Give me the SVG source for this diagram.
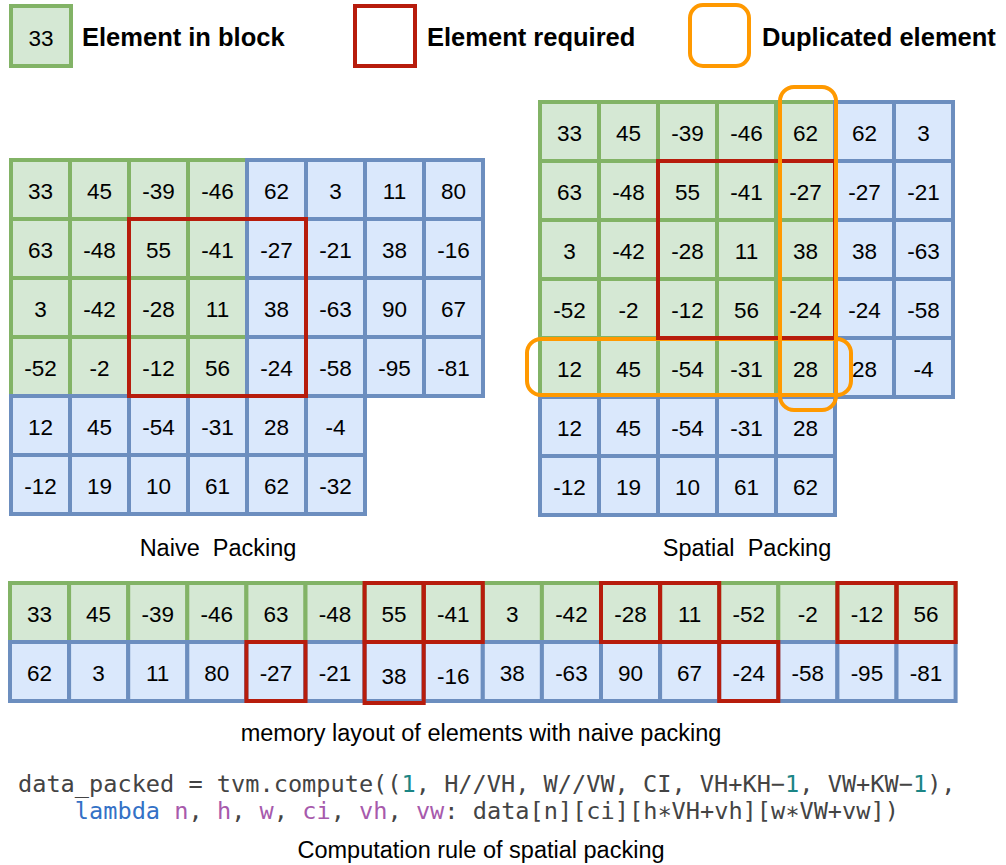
<svg xmlns="http://www.w3.org/2000/svg" width="1006" height="865" viewBox="0 0 1006 865">
  <style>
    .g { fill: #d5e8d4; stroke: #82b366; stroke-width: 4; }
    .b { fill: #dae8fc; stroke: #6c8ebf; stroke-width: 4; }
    .r { fill: none; stroke: #b71c0c; stroke-width: 4; }
    .o { fill: none; stroke: #ff9900; stroke-width: 4; }
    .n { font-family: "Liberation Sans", Arial, sans-serif; font-size: 22.5px; text-anchor: middle; fill: #000; }
    .cap { font-family: "Liberation Sans", Arial, sans-serif; font-size: 23.5px; text-anchor: middle; fill: #000; }
    .lg { font-family: "Liberation Sans", Arial, sans-serif; font-size: 25.5px; font-weight: bold; fill: #000; }
    .code { font-family: "DejaVu Sans Mono", "Liberation Mono", monospace; font-size: 23.6px; fill: #444; }
    .kw { fill: #3471c6; }
    .arg { fill: #a75aac; }
    .num { fill: #1b8585; }
  </style>

  <!-- legend -->
  <g id="legend">
    <rect class="g" x="11" y="6" width="60" height="60"/>
    <text class="n" x="41" y="46">33</text>
    <text class="lg" x="82" y="46">Element in block</text>
    <rect class="r" x="355" y="6" width="60" height="60"/>
    <text class="lg" x="427" y="46">Element required</text>
    <rect class="o" x="690" y="5" width="59" height="61" rx="13"/>
    <text class="lg" x="762" y="46">Duplicated element</text>
  </g>

  <!-- naive packing: 8x4 block on top, 6x2 tail below -->
  <g id="naive-grid">
    <g id="naive-green">
      <rect class="g" x="11" y="160" width="59" height="59"/><rect class="g" x="70" y="160" width="59" height="59"/><rect class="g" x="129" y="160" width="59" height="59"/><rect class="g" x="188" y="160" width="59" height="59"/>
      <rect class="g" x="11" y="219" width="59" height="59"/><rect class="g" x="70" y="219" width="59" height="59"/><rect class="g" x="129" y="219" width="59" height="59"/><rect class="g" x="188" y="219" width="59" height="59"/>
      <rect class="g" x="11" y="278" width="59" height="59"/><rect class="g" x="70" y="278" width="59" height="59"/><rect class="g" x="129" y="278" width="59" height="59"/><rect class="g" x="188" y="278" width="59" height="59"/>
      <rect class="g" x="11" y="337" width="59" height="59"/><rect class="g" x="70" y="337" width="59" height="59"/><rect class="g" x="129" y="337" width="59" height="59"/><rect class="g" x="188" y="337" width="59" height="59"/>
    </g>
    <g id="naive-blue">
      <rect class="b" x="247" y="160" width="59" height="59"/><rect class="b" x="306" y="160" width="59" height="59"/><rect class="b" x="365" y="160" width="59" height="59"/><rect class="b" x="424" y="160" width="59" height="59"/>
      <rect class="b" x="247" y="219" width="59" height="59"/><rect class="b" x="306" y="219" width="59" height="59"/><rect class="b" x="365" y="219" width="59" height="59"/><rect class="b" x="424" y="219" width="59" height="59"/>
      <rect class="b" x="247" y="278" width="59" height="59"/><rect class="b" x="306" y="278" width="59" height="59"/><rect class="b" x="365" y="278" width="59" height="59"/><rect class="b" x="424" y="278" width="59" height="59"/>
      <rect class="b" x="247" y="337" width="59" height="59"/><rect class="b" x="306" y="337" width="59" height="59"/><rect class="b" x="365" y="337" width="59" height="59"/><rect class="b" x="424" y="337" width="59" height="59"/>
      <rect class="b" x="11" y="396" width="59" height="59"/><rect class="b" x="70" y="396" width="59" height="59"/><rect class="b" x="129" y="396" width="59" height="59"/><rect class="b" x="188" y="396" width="59" height="59"/><rect class="b" x="247" y="396" width="59" height="59"/><rect class="b" x="306" y="396" width="59" height="59"/>
      <rect class="b" x="11" y="455" width="59" height="59"/><rect class="b" x="70" y="455" width="59" height="59"/><rect class="b" x="129" y="455" width="59" height="59"/><rect class="b" x="188" y="455" width="59" height="59"/><rect class="b" x="247" y="455" width="59" height="59"/><rect class="b" x="306" y="455" width="59" height="59"/>
    </g>
    <rect id="naive-required" class="r" x="129" y="219" width="177" height="177"/>
    <g id="naive-values">
      <text class="n" x="40.5" y="199">33</text><text class="n" x="99.5" y="199">45</text><text class="n" x="158.5" y="199">-39</text><text class="n" x="217.5" y="199">-46</text><text class="n" x="276.5" y="199">62</text><text class="n" x="335.5" y="199">3</text><text class="n" x="394.5" y="199">11</text><text class="n" x="453.5" y="199">80</text>
      <text class="n" x="40.5" y="258">63</text><text class="n" x="99.5" y="258">-48</text><text class="n" x="158.5" y="258">55</text><text class="n" x="217.5" y="258">-41</text><text class="n" x="276.5" y="258">-27</text><text class="n" x="335.5" y="258">-21</text><text class="n" x="394.5" y="258">38</text><text class="n" x="453.5" y="258">-16</text>
      <text class="n" x="40.5" y="317">3</text><text class="n" x="99.5" y="317">-42</text><text class="n" x="158.5" y="317">-28</text><text class="n" x="217.5" y="317">11</text><text class="n" x="276.5" y="317">38</text><text class="n" x="335.5" y="317">-63</text><text class="n" x="394.5" y="317">90</text><text class="n" x="453.5" y="317">67</text>
      <text class="n" x="40.5" y="376">-52</text><text class="n" x="99.5" y="376">-2</text><text class="n" x="158.5" y="376">-12</text><text class="n" x="217.5" y="376">56</text><text class="n" x="276.5" y="376">-24</text><text class="n" x="335.5" y="376">-58</text><text class="n" x="394.5" y="376">-95</text><text class="n" x="453.5" y="376">-81</text>
      <text class="n" x="40.5" y="435">12</text><text class="n" x="99.5" y="435">45</text><text class="n" x="158.5" y="435">-54</text><text class="n" x="217.5" y="435">-31</text><text class="n" x="276.5" y="435">28</text><text class="n" x="335.5" y="435">-4</text>
      <text class="n" x="40.5" y="494">-12</text><text class="n" x="99.5" y="494">19</text><text class="n" x="158.5" y="494">10</text><text class="n" x="217.5" y="494">61</text><text class="n" x="276.5" y="494">62</text><text class="n" x="335.5" y="494">-32</text>
    </g>
    <text class="cap" x="218" y="556" xml:space="preserve">Naive  Packing</text>
  </g>

  <!-- spatial packing: 5x5 block with its halo -->
  <g id="spatial-grid">
    <g id="spatial-green">
      <rect class="g" x="540" y="102" width="59" height="59"/><rect class="g" x="599" y="102" width="59" height="59"/><rect class="g" x="658" y="102" width="59" height="59"/><rect class="g" x="717" y="102" width="59" height="59"/><rect class="g" x="776" y="102" width="59" height="59"/>
      <rect class="g" x="540" y="161" width="59" height="59"/><rect class="g" x="599" y="161" width="59" height="59"/><rect class="g" x="658" y="161" width="59" height="59"/><rect class="g" x="717" y="161" width="59" height="59"/><rect class="g" x="776" y="161" width="59" height="59"/>
      <rect class="g" x="540" y="220" width="59" height="59"/><rect class="g" x="599" y="220" width="59" height="59"/><rect class="g" x="658" y="220" width="59" height="59"/><rect class="g" x="717" y="220" width="59" height="59"/><rect class="g" x="776" y="220" width="59" height="59"/>
      <rect class="g" x="540" y="279" width="59" height="59"/><rect class="g" x="599" y="279" width="59" height="59"/><rect class="g" x="658" y="279" width="59" height="59"/><rect class="g" x="717" y="279" width="59" height="59"/><rect class="g" x="776" y="279" width="59" height="59"/>
      <rect class="g" x="540" y="338" width="59" height="59"/><rect class="g" x="599" y="338" width="59" height="59"/><rect class="g" x="658" y="338" width="59" height="59"/><rect class="g" x="717" y="338" width="59" height="59"/><rect class="g" x="776" y="338" width="59" height="59"/>
    </g>
    <g id="spatial-blue">
      <rect class="b" x="835" y="102" width="59" height="59"/><rect class="b" x="894" y="102" width="59" height="59"/>
      <rect class="b" x="835" y="161" width="59" height="59"/><rect class="b" x="894" y="161" width="59" height="59"/>
      <rect class="b" x="835" y="220" width="59" height="59"/><rect class="b" x="894" y="220" width="59" height="59"/>
      <rect class="b" x="835" y="279" width="59" height="59"/><rect class="b" x="894" y="279" width="59" height="59"/>
      <rect class="b" x="835" y="338" width="59" height="59"/><rect class="b" x="894" y="338" width="59" height="59"/>
      <rect class="b" x="540" y="397" width="59" height="59"/><rect class="b" x="599" y="397" width="59" height="59"/><rect class="b" x="658" y="397" width="59" height="59"/><rect class="b" x="717" y="397" width="59" height="59"/><rect class="b" x="776" y="397" width="59" height="59"/>
      <rect class="b" x="540" y="456" width="59" height="59"/><rect class="b" x="599" y="456" width="59" height="59"/><rect class="b" x="658" y="456" width="59" height="59"/><rect class="b" x="717" y="456" width="59" height="59"/><rect class="b" x="776" y="456" width="59" height="59"/>
    </g>
    <rect id="dup-row" class="o" x="527" y="339" width="324" height="56" rx="14"/>
    <rect id="spatial-required" class="r" x="658" y="161" width="177" height="177"/>
    <rect id="dup-col" class="o" x="780" y="87" width="56" height="323" rx="14"/>
    <g id="spatial-values">
      <text class="n" x="569.5" y="141">33</text><text class="n" x="628.5" y="141">45</text><text class="n" x="687.5" y="141">-39</text><text class="n" x="746.5" y="141">-46</text><text class="n" x="805.5" y="141">62</text><text class="n" x="864.5" y="141">62</text><text class="n" x="923.5" y="141">3</text>
      <text class="n" x="569.5" y="200">63</text><text class="n" x="628.5" y="200">-48</text><text class="n" x="687.5" y="200">55</text><text class="n" x="746.5" y="200">-41</text><text class="n" x="805.5" y="200">-27</text><text class="n" x="864.5" y="200">-27</text><text class="n" x="923.5" y="200">-21</text>
      <text class="n" x="569.5" y="259">3</text><text class="n" x="628.5" y="259">-42</text><text class="n" x="687.5" y="259">-28</text><text class="n" x="746.5" y="259">11</text><text class="n" x="805.5" y="259">38</text><text class="n" x="864.5" y="259">38</text><text class="n" x="923.5" y="259">-63</text>
      <text class="n" x="569.5" y="318">-52</text><text class="n" x="628.5" y="318">-2</text><text class="n" x="687.5" y="318">-12</text><text class="n" x="746.5" y="318">56</text><text class="n" x="805.5" y="318">-24</text><text class="n" x="864.5" y="318">-24</text><text class="n" x="923.5" y="318">-58</text>
      <text class="n" x="569.5" y="377">12</text><text class="n" x="628.5" y="377">45</text><text class="n" x="687.5" y="377">-54</text><text class="n" x="746.5" y="377">-31</text><text class="n" x="805.5" y="377">28</text><text class="n" x="864.5" y="377">28</text><text class="n" x="923.5" y="377">-4</text>
      <text class="n" x="569.5" y="436">12</text><text class="n" x="628.5" y="436">45</text><text class="n" x="687.5" y="436">-54</text><text class="n" x="746.5" y="436">-31</text><text class="n" x="805.5" y="436">28</text>
      <text class="n" x="569.5" y="495">-12</text><text class="n" x="628.5" y="495">19</text><text class="n" x="687.5" y="495">10</text><text class="n" x="746.5" y="495">61</text><text class="n" x="805.5" y="495">62</text>
    </g>
    <text class="cap" x="747" y="556" xml:space="preserve">Spatial  Packing</text>
  </g>

  <!-- linear memory layout -->
  <g id="memory-layout">
    <g id="mem-green">
      <rect class="g" x="10" y="583" width="59.1" height="59"/><rect class="g" x="69.1" y="583" width="59.1" height="59"/><rect class="g" x="128.2" y="583" width="59.1" height="59"/><rect class="g" x="187.3" y="583" width="59.1" height="59"/>
      <rect class="g" x="246.4" y="583" width="59.1" height="59"/><rect class="g" x="305.5" y="583" width="59.1" height="59"/><rect class="g" x="364.6" y="583" width="59.1" height="59"/><rect class="g" x="423.7" y="583" width="59.1" height="59"/>
      <rect class="g" x="482.8" y="583" width="59.1" height="59"/><rect class="g" x="541.9" y="583" width="59.1" height="59"/><rect class="g" x="601" y="583" width="59.1" height="59"/><rect class="g" x="660.1" y="583" width="59.1" height="59"/>
      <rect class="g" x="719.2" y="583" width="59.1" height="59"/><rect class="g" x="778.3" y="583" width="59.1" height="59"/><rect class="g" x="837.4" y="583" width="59.1" height="59"/><rect class="g" x="896.5" y="583" width="59.1" height="59"/>
    </g>
    <g id="mem-blue">
      <rect class="b" x="10" y="642" width="59.1" height="59"/><rect class="b" x="69.1" y="642" width="59.1" height="59"/><rect class="b" x="128.2" y="642" width="59.1" height="59"/><rect class="b" x="187.3" y="642" width="59.1" height="59"/>
      <rect class="b" x="246.4" y="642" width="59.1" height="59"/><rect class="b" x="305.5" y="642" width="59.1" height="59"/><rect class="b" x="364.6" y="642" width="59.1" height="59"/><rect class="b" x="423.7" y="642" width="59.1" height="59"/>
      <rect class="b" x="482.8" y="642" width="59.1" height="59"/><rect class="b" x="541.9" y="642" width="59.1" height="59"/><rect class="b" x="601" y="642" width="59.1" height="59"/><rect class="b" x="660.1" y="642" width="59.1" height="59"/>
      <rect class="b" x="719.2" y="642" width="59.1" height="59"/><rect class="b" x="778.3" y="642" width="59.1" height="59"/><rect class="b" x="837.4" y="642" width="59.1" height="59"/><rect class="b" x="896.5" y="642" width="59.1" height="59"/>
    </g>
    <g id="mem-required">
      <rect class="r" x="364.6" y="583" width="59.1" height="59"/><rect class="r" x="423.7" y="583" width="59.1" height="59"/>
      <rect class="r" x="601" y="583" width="59.1" height="59"/><rect class="r" x="660.1" y="583" width="59.1" height="59"/>
      <rect class="r" x="837.4" y="583" width="59.1" height="59"/><rect class="r" x="896.5" y="583" width="59.1" height="59"/>
      <rect class="r" x="246.4" y="642" width="59.1" height="59"/>
      <rect class="r" x="364.6" y="642" width="59.1" height="61"/>
      <rect class="r" x="719.2" y="642" width="59.1" height="59"/>
    </g>
    <g id="mem-values">
      <text class="n" x="39.5" y="622">33</text><text class="n" x="98.6" y="622">45</text><text class="n" x="157.7" y="622">-39</text><text class="n" x="216.8" y="622">-46</text><text class="n" x="275.9" y="622">63</text><text class="n" x="335" y="622">-48</text><text class="n" x="394.1" y="622">55</text><text class="n" x="453.2" y="622">-41</text>
      <text class="n" x="512.3" y="622">3</text><text class="n" x="571.4" y="622">-42</text><text class="n" x="630.5" y="622">-28</text><text class="n" x="689.6" y="622">11</text><text class="n" x="748.7" y="622">-52</text><text class="n" x="807.8" y="622">-2</text><text class="n" x="866.9" y="622">-12</text><text class="n" x="926" y="622">56</text>
      <text class="n" x="39.5" y="681">62</text><text class="n" x="98.6" y="681">3</text><text class="n" x="157.7" y="681">11</text><text class="n" x="216.8" y="681">80</text><text class="n" x="275.9" y="681">-27</text><text class="n" x="335" y="681">-21</text><text class="n" x="394.1" y="684">38</text><text class="n" x="453.2" y="684">-16</text>
      <text class="n" x="512.3" y="681">38</text><text class="n" x="571.4" y="681">-63</text><text class="n" x="630.5" y="681">90</text><text class="n" x="689.6" y="681">67</text><text class="n" x="748.7" y="681">-24</text><text class="n" x="807.8" y="681">-58</text><text class="n" x="866.9" y="681">-95</text><text class="n" x="926" y="681">-81</text>
    </g>
    <text class="cap" x="481" y="741">memory layout of elements with naive packing</text>
  </g>

  <!-- compute rule -->
  <g id="code">
    <text class="code" x="18" y="792" xml:space="preserve">data_packed = tvm.compute((<tspan class="num">1</tspan>, H//VH, W//VW, CI, VH+KH−<tspan class="num">1</tspan>, VW+KW−<tspan class="num">1</tspan>),</text>
    <text class="code" x="18" y="819" xml:space="preserve">    <tspan class="kw">lambda</tspan> <tspan class="arg">n</tspan>, <tspan class="arg">h</tspan>, <tspan class="arg">w</tspan>, <tspan class="arg">ci</tspan>, <tspan class="arg">vh</tspan>, <tspan class="arg">vw</tspan>: data[n][ci][h∗VH+vh][w∗VW+vw])</text>
    <text class="cap" x="481" y="858">Computation rule of spatial packing</text>
  </g>
</svg>
